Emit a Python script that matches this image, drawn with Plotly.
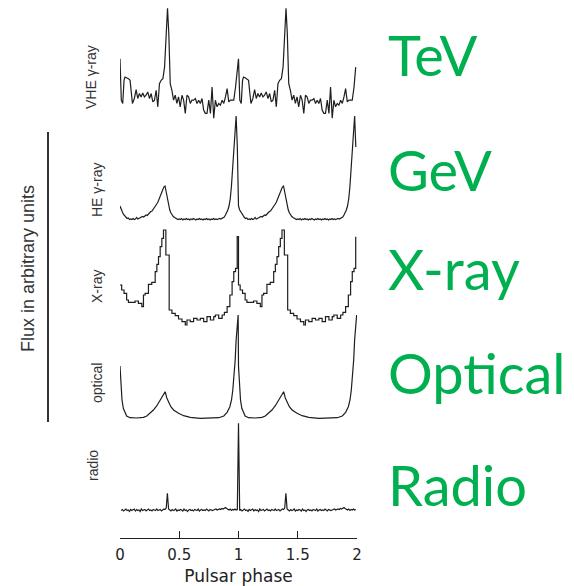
import numpy as np
import plotly.graph_objects as go

# ---------------- data (one pulsar cycle each, shown twice) ----------------
# VHE gamma-ray (TeV)
vhe_phase = [0.000, 0.011, 0.023, 0.034, 0.042, 0.056, 0.071, 0.085, 0.096, 0.105,
             0.121, 0.136, 0.150, 0.164, 0.178, 0.192, 0.206, 0.220, 0.234, 0.249,
             0.263, 0.277, 0.291, 0.305, 0.319, 0.333, 0.347, 0.362, 0.376, 0.390,
             0.401, 0.412, 0.424, 0.438, 0.452, 0.466, 0.480, 0.494, 0.508, 0.523,
             0.537, 0.551, 0.565, 0.579, 0.593, 0.607, 0.621, 0.636, 0.650, 0.664,
             0.678, 0.692, 0.706, 0.720, 0.734, 0.749, 0.763, 0.777, 0.791, 0.805,
             0.819, 0.833, 0.847, 0.862, 0.876, 0.890, 0.904, 0.918, 0.932, 0.946,
             0.960, 0.975, 0.989]
vhe_flux = [61.7, 20.0, 16.7, 40.0, 43.3, 42.7, 41.7, 40.0, 26.7, 16.7,
            21.7, 30.7, 21.7, 26.7, 23.3, 27.3, 23.3, 25.0, 28.3, 21.7,
            26.7, 18.3, 20.0, 30.0, 13.3, 36.7, 40.0, 41.7, 53.3, 86.7,
            112.7, 86.7, 36.7, 30.0, 20.0, 25.0, 16.7, 23.3, 13.3, 25.0,
            20.0, 6.7, 25.0, 23.3, 16.7, 20.0, 20.0, 21.7, 16.7, 20.0,
            16.7, 21.7, 10.0, 6.7, 6.7, 20.0, 6.7, 33.3, 1.7, 20.0,
            13.3, 16.7, 15.0, 20.0, 16.7, 23.3, 31.7, 18.3, 20.0, 20.0,
            20.0, 33.3, 53.3]

# HE gamma-ray (GeV), bins of 0.01 in phase
he_flux = [16, 12, 10, 7.5, 6, 4.5, 3.5, 4, 2.5, 3,
           2.5, 3.5, 2.5, 3, 4.5, 3, 3.5, 4, 4.5, 5.5,
           5, 6, 7, 6.5, 8, 9, 10.5, 11, 12.5, 14,
           16, 18, 20, 23, 26, 29, 32.5, 35, 36, 30,
           22, 16, 12, 9, 7, 5.5, 4.5, 4, 3.5, 2.5,
           3, 2.5, 3.5, 2, 3, 2.5, 3.5, 2.5, 3, 2,
           3, 2.5, 3.5, 2.5, 2, 3, 2.5, 3.5, 2.5, 3,
           2, 3, 2.5, 3.5, 2.5, 3, 2, 3, 2.5, 3.5,
           2.5, 3, 2.5, 3, 3.5, 3, 3.5, 4, 5, 7,
           9, 12, 16, 23, 35, 52, 70, 90, 106, 75]

# X-ray (binned histogram, bin starts)
xray_phase = [0.000, 0.014, 0.034, 0.056, 0.071, 0.127, 0.155, 0.184, 0.198, 0.212,
              0.240, 0.268, 0.297, 0.311, 0.325, 0.339, 0.353, 0.367, 0.387, 0.415,
              0.438, 0.466, 0.494, 0.523, 0.551, 0.565, 0.593, 0.621, 0.650, 0.678,
              0.706, 0.734, 0.763, 0.791, 0.805, 0.833, 0.862, 0.881, 0.904, 0.927,
              0.946, 0.960, 0.975, 0.989]
xray_flux = [45.0, 40.0, 36.7, 30.0, 27.7, 29.0, 26.7, 23.3, 35.0, 36.7,
             45.7, 47.7, 58.3, 65.7, 73.3, 83.3, 91.7, 100.0, 75.0, 20.0,
             16.7, 14.3, 11.0, 8.3, 5.0, 10.0, 8.3, 11.7, 10.0, 11.7,
             8.3, 13.3, 10.0, 13.3, 15.0, 11.7, 15.0, 17.7, 23.3, 35.0,
             48.3, 58.3, 61.7, 93.3]

# Optical
opt_phase = [0.000, 0.008, 0.017, 0.028, 0.042, 0.056, 0.085, 0.113, 0.141, 0.169,
             0.198, 0.226, 0.254, 0.282, 0.311, 0.339, 0.362, 0.381, 0.395, 0.410,
             0.429, 0.452, 0.494, 0.537, 0.593, 0.678, 0.763, 0.833, 0.876, 0.904,
             0.927, 0.941, 0.952, 0.963, 0.972, 0.980, 0.989, 0.997]
opt_flux = [54.0, 33.3, 20.0, 11.7, 6.7, 4.0, 2.3, 2.0, 2.0, 2.3,
            2.7, 4.0, 6.7, 10.0, 14.3, 20.0, 25.0, 28.3, 22.0, 17.7,
            13.3, 10.0, 6.7, 4.3, 2.7, 1.7, 1.7, 2.3, 4.0, 7.7,
            13.3, 20.0, 30.0, 43.0, 60.0, 80.0, 97.0, 105.0]

# Radio, bins of 0.01 in phase (main pulse at phase 0)
radio_flux = [91.7, 4.5, 5.5, 4, 5, 6, 4.5, 5, 3.5, 5.5,
              4.5, 5, 6, 4, 5.5, 4.5, 5, 3.5, 6, 4.5,
              5, 5.5, 4, 5, 6, 4.5, 5, 4, 5.5, 5,
              4.5, 6, 4.5, 5, 5.5, 4, 5, 6, 5.5, 7,
              21.7, 6, 5, 4, 5.5, 4.5, 5, 6, 4, 5,
              4.5, 5.5, 5, 4, 6, 4.5, 5, 3.5, 5, 5.5,
              4.5, 5, 4, 5.5, 5, 4.5, 6, 4, 5, 5.5,
              4.5, 5, 4.5, 6, 5, 4, 5.5, 5, 4.5, 5,
              5.5, 6, 5, 5.5, 6, 5.5, 6.5, 6, 7, 7.5,
              6.5, 5.5, 5, 6, 4.5, 5.5, 5, 6, 5, 5.5]

he_phase = np.arange(len(he_flux)) / 100.0
radio_phase = np.arange(len(radio_flux)) / 100.0

panel_labels = ["VHE γ-ray", "HE γ-ray", "X-ray", "optical", "radio"]
band_labels = ["TeV", "GeV", "X-ray", "Optical", "Radio"]
tick_vals = [0, 0.5, 1, 1.5, 2]
tick_text = ["0", "0.5", "1", "1.5", "2"]

# ---------------- layout geometry (page pixels) ----------------
OFF = 8                      # default page body margin
W, H = 574 - OFF, 586 - OFF
X0, X1 = 120, 357            # page x of phase 0 and phase 2
AXIS_Y = 538                 # page y of the x-axis line
ML, MR, MT = X0 - OFF, 574 - X1, 0
MB = 586 - AXIS_Y
PW, PH = X1 - X0, AXIS_Y - OFF


def fx(px):
    return (px - X0) / PW


def fy(py):
    return (AXIS_Y - py) / PH


# (baseline page y, top page y, axis range top)
panel_geo = [(120, 8, 113), (222, 112, 110), (330, 225, 105), (420, 310, 110), (515, 420, 95)]


def two_cycles(ph, fl, skip_first=False):
    ph = np.asarray(ph, dtype=float)
    fl = np.asarray(fl, dtype=float)
    if skip_first:
        x = np.concatenate([ph[1:], ph + 1])
        y = np.concatenate([fl[1:], fl])
    else:
        x = np.concatenate([ph, ph + 1])
        y = np.concatenate([fl, fl])
    return x, y


series = [
    two_cycles(vhe_phase, vhe_flux),
    two_cycles(he_phase, he_flux),
    two_cycles(xray_phase, xray_flux),
    two_cycles(opt_phase, opt_flux),
    two_cycles(radio_phase, radio_flux, skip_first=True),
]
shapes_line = ["linear", "linear", "hv", "linear", "linear"]

fig = go.Figure()
line_col = "#1e1e1e"
for i, ((x, y), shp) in enumerate(zip(series, shapes_line)):
    yname = "y" if i == 0 else f"y{i+1}"
    fig.add_trace(go.Scatter(x=x, y=y, mode="lines", xaxis="x", yaxis=yname,
                             line=dict(color=line_col, width=1.2, shape=shp),
                             hoverinfo="skip", showlegend=False))

layout = dict(
    width=W, height=H,
    margin=dict(l=ML, r=MR, t=MT, b=MB, pad=0),
    paper_bgcolor="white", plot_bgcolor="rgba(0,0,0,0)",
    showlegend=False,
    xaxis=dict(domain=[0, 1], range=[0, 2], anchor="free", position=0,
               tickvals=tick_vals, ticktext=tick_text,
               ticks="inside", ticklen=7, tickwidth=1.3, tickcolor="#222",
               showline=True, linecolor="#222", linewidth=1.3,
               showgrid=False, zeroline=False, ticklabelstandoff=3,
               tickfont=dict(family="DejaVu Sans", size=15, color="#222"),
               title=dict(text="Pulsar phase", standoff=8,
                          font=dict(family="DejaVu Sans", size=17, color="#222"))),
)
for i, (base, top, rng) in enumerate(panel_geo):
    key = "yaxis" if i == 0 else f"yaxis{i+1}"
    layout[key] = dict(domain=[fy(base), min(1.0, fy(top))], range=[0, rng],
                       visible=False, anchor="x", fixedrange=True)
fig.update_layout(**layout)

annotations = []
# panel labels (rotated)
label_pos = [(91, 77), (97, 190), (97, 287), (97, 383), (93, 466)]
for txt, (px, py) in zip(panel_labels, label_pos):
    annotations.append(dict(text=txt, x=fx(px), y=fy(py), xref="paper", yref="paper",
                            showarrow=False, textangle=-90, xanchor="center", yanchor="middle",
                            font=dict(family="Liberation Sans", size=14, color="#333")))
# y-axis title
annotations.append(dict(text="Flux in arbitrary units", x=fx(28), y=fy(269),
                        xref="paper", yref="paper", showarrow=False, textangle=-90,
                        xanchor="center", yanchor="middle",
                        font=dict(family="Liberation Sans", size=18, color="#333")))
# green band labels
band_pos = [55, 169, 268, 372, 484]
for txt, py in zip(band_labels, band_pos):
    annotations.append(dict(text=txt, x=fx(386), y=fy(py), xref="paper", yref="paper",
                            showarrow=False, xanchor="left", yanchor="middle",
                            font=dict(family="Lato", size=56, color="#00B050")))
fig.update_layout(annotations=annotations)

fig.add_shape(type="line", xref="paper", yref="paper",
              x0=fx(48), x1=fx(48), y0=fy(132), y1=fy(422),
              line=dict(color="#333", width=2))

fig.write_html("out.html")
